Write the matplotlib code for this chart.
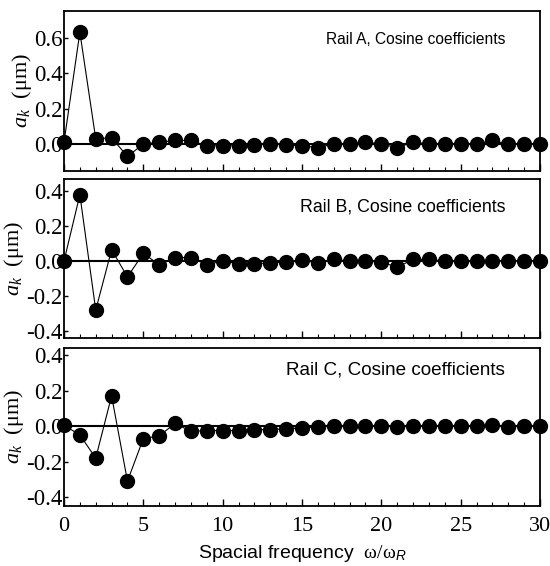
import numpy as np
import matplotlib
matplotlib.use("Agg")
import matplotlib.pyplot as plt
from matplotlib.ticker import MultipleLocator

plt.rcParams["mathtext.fontset"] = "custom"
plt.rcParams["mathtext.rm"] = "Liberation Serif"
plt.rcParams["mathtext.it"] = "Liberation Serif:italic"
plt.rcParams["mathtext.sf"] = "Liberation Sans:italic"

# cosine coefficients a_k for k = 0..30
k = np.arange(0, 31)
rail_a = [0.01, 0.63, 0.03, 0.035, -0.07, 0.0, 0.01, 0.02, 0.02, -0.01,
          -0.01, -0.01, -0.005, 0.0, -0.005, -0.01, -0.02, 0.0, 0.0, 0.01,
          0.0, -0.02, 0.01, 0.0, 0.0, 0.0, 0.0, 0.02, 0.0, 0.0, 0.0]
rail_b = [0.0, 0.38, -0.28, 0.065, -0.09, 0.044, -0.02, 0.02, 0.02, -0.02,
          0.0, -0.015, -0.015, -0.01, -0.005, 0.005, -0.01, 0.01, 0.0, 0.0,
          -0.005, -0.035, 0.01, 0.01, 0.0, 0.0, 0.0, 0.0, 0.0, 0.0, 0.0]
rail_c = [0.005, -0.05, -0.18, 0.17, -0.31, -0.07, -0.055, 0.015, -0.03, -0.025,
          -0.025, -0.025, -0.02, -0.02, -0.015, -0.01, -0.005, 0.0, 0.0, 0.0,
          0.0, -0.005, 0.0, 0.0, 0.0, 0.0, 0.0, 0.005, -0.005, 0.0, 0.0]
titles = ["Rail A, Cosine coefficients", "Rail B, Cosine coefficients",
          "Rail C, Cosine coefficients"]
series = [rail_a, rail_b, rail_c]
ylims = [(-0.152, 0.75), (-0.44, 0.47), (-0.45, 0.44)]
yticks = [[0.0, 0.2, 0.4, 0.6], [-0.4, -0.2, 0.0, 0.2, 0.4], [-0.4, -0.2, 0.0, 0.2, 0.4]]

W, H = 550, 566
fig = plt.figure(figsize=(W / 100, H / 100), dpi=100)
# panel edges in pixels (top, bottom)
edges = [(11, 171), (179, 338), (348, 506)]
left, right = 64, 540
# title placement: right edge x, centre y (pixels), size
title_y = [39, 207, 370]
title_size = [11.2, 12.8, 13.6]

serif = "Liberation Serif"
sans = "Liberation Sans"

for i, (ys, title) in enumerate(zip(series, titles)):
    top, bot = edges[i]
    ax = fig.add_axes([left / W, 1 - bot / H, (right - left) / W, (bot - top) / H])
    ax.axhline(0, color="black", lw=1.5, zorder=1)
    ax.plot(k, ys, color="black", lw=0.8, marker="o", ms=10,
            markerfacecolor="black", markeredgecolor="black", zorder=3,
            clip_on=False)
    ax.set_xlim(0, 30)
    ax.set_ylim(*ylims[i])
    ax.set_yticks(yticks[i])
    ax.set_yticklabels(["%.1f" % v for v in yticks[i]], fontfamily=serif, fontsize=16.5)
    ax.xaxis.set_major_locator(MultipleLocator(5))
    ax.xaxis.set_minor_locator(MultipleLocator(1))
    ax.tick_params(axis="x", which="major", direction="in", length=5, width=1, top=False)
    ax.tick_params(axis="x", which="minor", direction="in", length=3, width=0.8, top=False)
    ax.tick_params(axis="y", direction="in", length=3, width=1, pad=1)
    for s in ax.spines.values():
        s.set_linewidth(1.3)
    if i < 2:
        ax.set_xticklabels([])
    else:
        ax.set_xticks([0, 5, 10, 15, 20, 25, 30])
        ax.set_xticklabels(["0", "5", "10", "15", "20", "25", "30"],
                           fontfamily=serif, fontsize=16)
        ax.tick_params(axis="x", pad=8)
        ax.set_xlabel(r"Spacial frequency  $\mathrm{\omega/\omega}_{\mathsf{R}}$",
                      fontfamily=sans, fontsize=14, labelpad=5)
    ax.set_ylabel(r"$a_k$  ($\mathrm{\mu m}$)", fontfamily=serif, fontsize=16, labelpad=0)
    ax.text(505 / W, 1 - title_y[i] / H, title, transform=fig.transFigure,
            ha="right", va="center", fontfamily=sans, fontsize=title_size[i])

fig.savefig("out.png", dpi=100)
